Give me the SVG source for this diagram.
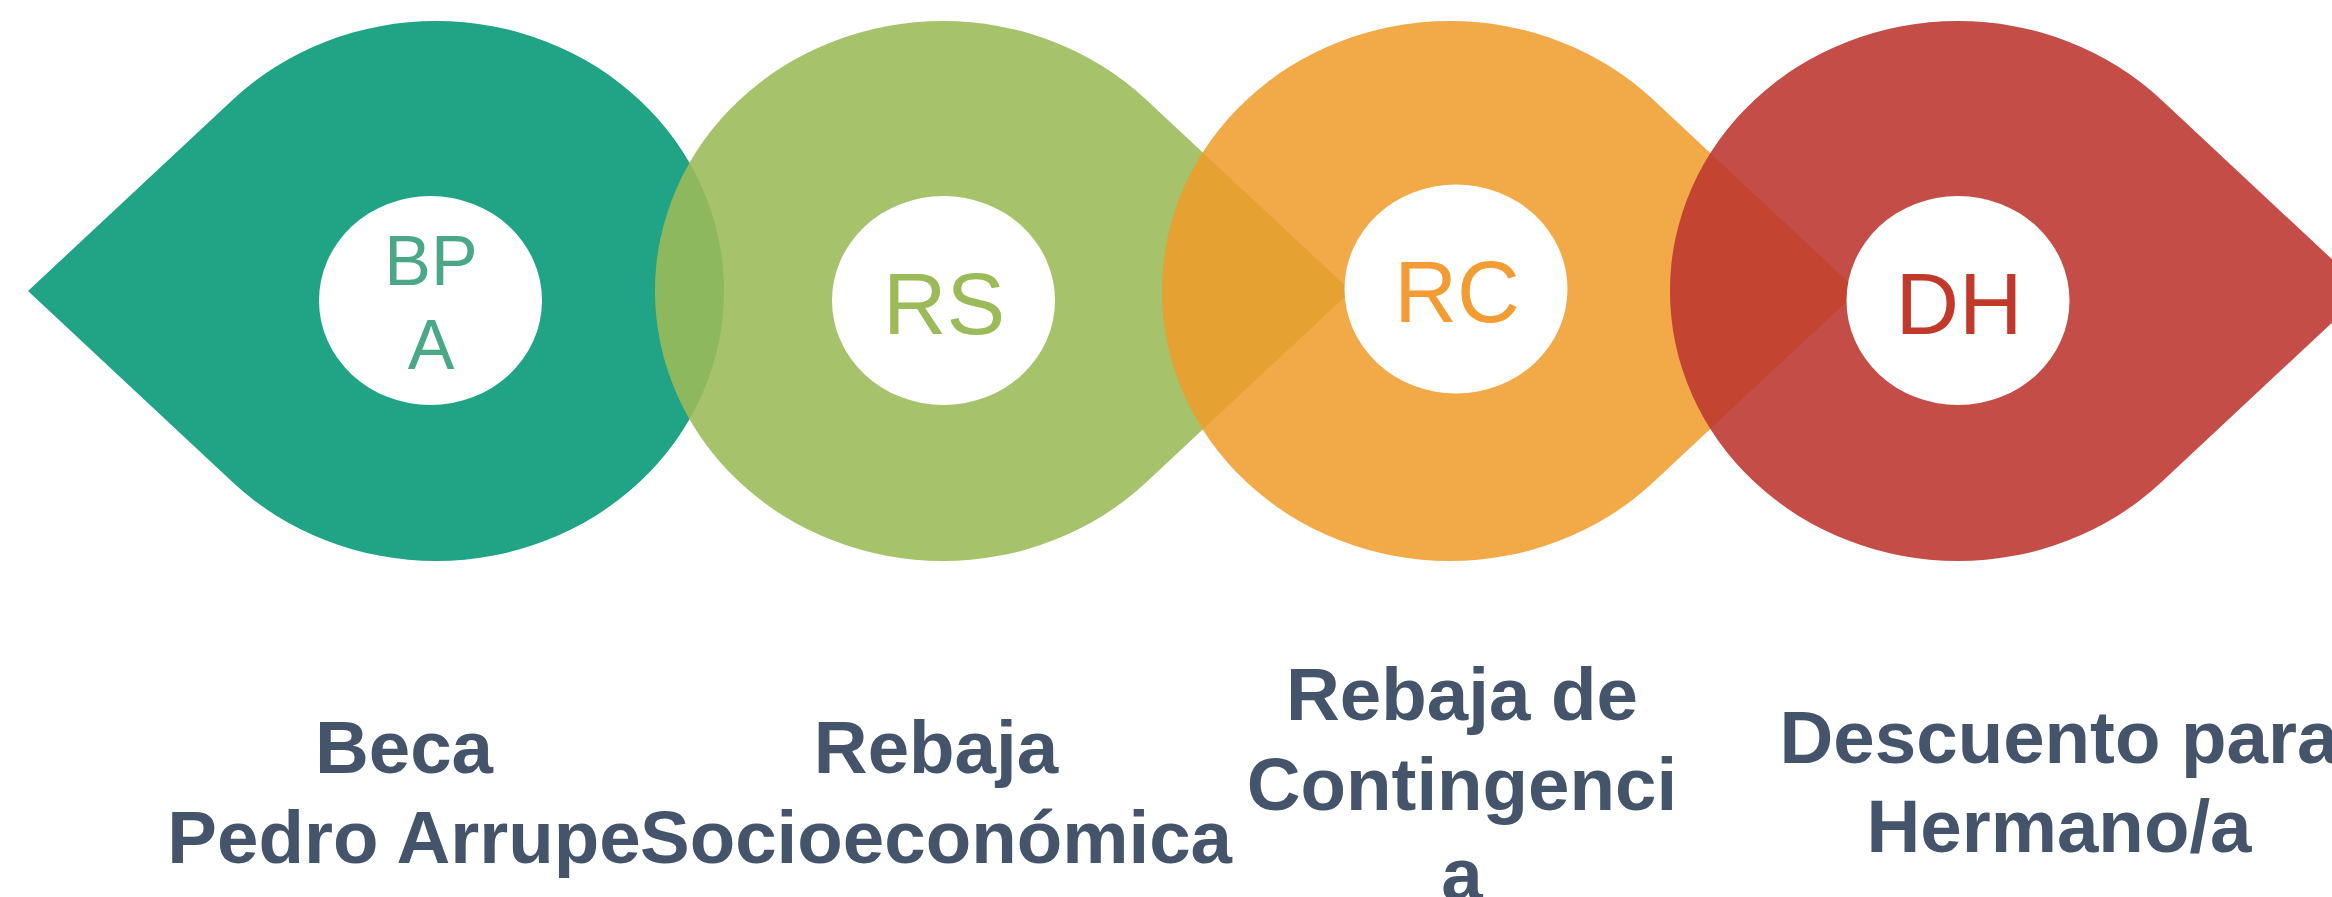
<svg xmlns="http://www.w3.org/2000/svg" width="2332" height="897" viewBox="0 0 2332 897">
  <style>
    .hole { fill: #ffffff; }
    .abbr { font-family: "Liberation Sans", Arial, sans-serif; text-anchor: middle; }
    .label { font-family: "Liberation Sans", Arial, sans-serif; font-weight: bold; font-size: 74.5px; fill: #44546a; text-anchor: middle; }
  </style>
  <rect width="2332" height="897" fill="#ffffff"/>

  <g id="node-bpa">
    <path d="M28,291 L232.7,99.8 A288,270 0 1,1 232.7,482.2 Z" fill="#21a386"/>
    <ellipse class="hole" cx="430.5" cy="300.5" rx="111.5" ry="104.5"/>
    <text class="abbr" font-size="70" fill="#4aa887"><tspan x="431" y="285">BP</tspan><tspan x="431" y="368.5">A</tspan></text>
    <text class="label"><tspan x="404" y="772.5">Beca</tspan><tspan x="404" y="862.5">Pedro Arrupe</tspan></text>
  </g>

  <g id="node-rs">
    <path d="M1351,291 L1146.3,482.2 A288,270 0 1,1 1146.3,99.8 Z" fill="#9bbb59" fill-opacity="0.89"/>
    <ellipse class="hole" cx="943.5" cy="300.5" rx="111.5" ry="104.5"/>
    <text class="abbr" font-size="88" fill="#9bbb59" x="944" y="334">RS</text>
    <text class="label"><tspan x="936" y="772.5">Rebaja</tspan><tspan x="936" y="862.5">Socioeconómica</tspan></text>
  </g>

  <g id="node-rc">
    <path d="M1858,291 L1653.3,482.2 A288,270 0 1,1 1653.3,99.8 Z" fill="#f09b29" fill-opacity="0.86"/>
    <ellipse class="hole" cx="1456" cy="289" rx="111.5" ry="104.5"/>
    <text class="abbr" font-size="87" fill="#f39c33" x="1457" y="321.7">RC</text>
    <text class="label"><tspan x="1462" y="720">Rebaja de</tspan><tspan x="1462" y="810">Contingenci</tspan><tspan x="1462" y="900">a</tspan></text>
  </g>

  <g id="node-dh">
    <path d="M2366,291 L2161.3,482.2 A288,270 0 1,1 2161.3,99.8 Z" fill="#bc362e" fill-opacity="0.88"/>
    <ellipse class="hole" cx="1958" cy="300.5" rx="111.5" ry="104.5"/>
    <text class="abbr" font-size="88" fill="#c0392b" x="1959" y="333.7">DH</text>
    <text class="label"><tspan x="2059" y="762.7">Descuento para</tspan><tspan x="2059" y="852.3">Hermano/a</tspan></text>
  </g>
</svg>
